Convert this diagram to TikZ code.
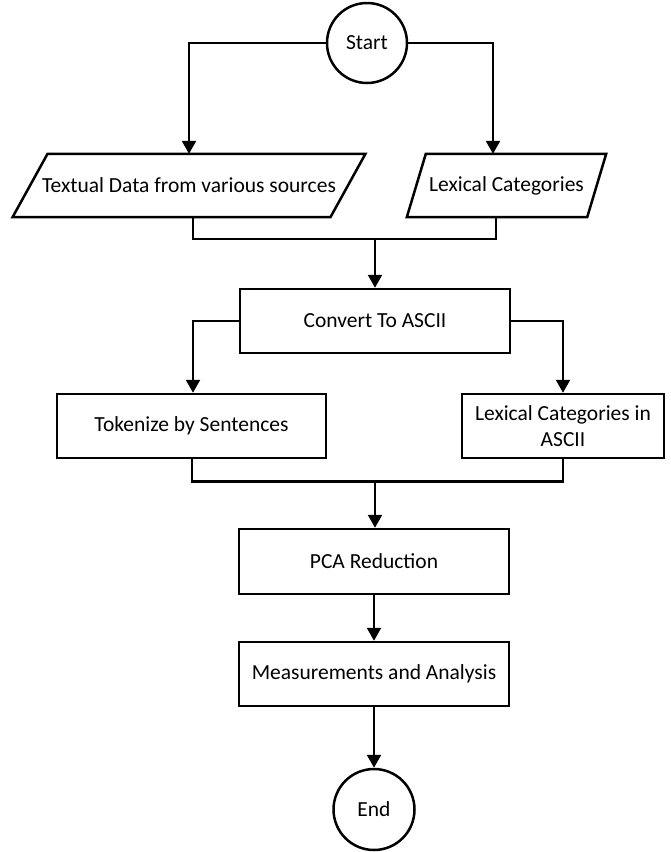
\documentclass[tikz,border=0pt]{standalone}
\usepackage{fontspec}
\setmainfont{Carlito}
\usetikzlibrary{arrows.meta,calc}
\begin{document}
\begin{tikzpicture}[x=1pt,y=-1pt,
  every node/.style={font=\fontsize{21.5}{26.5}\selectfont},
  box/.style={draw,line width=2.5pt,rectangle,minimum height=64pt,inner sep=0pt,align=center},
  term/.style={draw,line width=2.5pt,circle,minimum size=80pt,inner sep=0pt},
  iobox/.style={rectangle,minimum height=63pt,inner sep=0pt},
  ioline/.style={line width=2.5pt,line join=miter},
  conn/.style={line width=2.4pt,line join=miter},
  arr/.style={conn,-{Triangle[width=14pt,length=13pt]}}]
\useasboundingbox (0,0) rectangle (670,852);
\fill[white] (0,0) rectangle (670,852);
% nodes
\node[term] (start) at (367,43) {Start};
\node[iobox,minimum width=317.5pt] (data) at (189,185.5) {Textual Data from various sources};
\node[iobox,minimum width=180pt] (lex) at (506.5,185.5) {Lexical Categories};
\node[box,minimum width=270pt] (conv) at (375,321) {Convert To ASCII};
\node[box,minimum width=269pt] (tok) at (191.5,426) {Tokenize by Sentences};
\node[box,minimum width=202pt] (lexa) at (563,426) {Lexical Categories in\\ASCII};
\node[box,minimum width=270pt,minimum height=65pt] (pca) at (374,561.5) {PCA Reduction};
\node[box,minimum width=270pt] (meas) at (374,674) {Measurements and Analysis};
\node[term,minimum size=81pt] (end) at (374,809.5) {End};
% parallelogram outlines
\draw[ioline] ($(data.south west)+(-17.5,0)$) -- ($(data.south east)+(-17.5,0)$) -- ($(data.north east)+(17.5,0)$) -- ($(data.north west)+(17.5,0)$) -- cycle;
\draw[ioline] ($(lex.south west)+(-9.5,0)$) -- ($(lex.south east)+(-9.5,0)$) -- ($(lex.north east)+(9.5,0)$) -- ($(lex.north west)+(9.5,0)$) -- cycle;
% connectors
\draw[arr] (start.west) -| (data.north);
\draw[arr] (start.east) -| ($(lex.north)+(-13.5,0)$);
\coordinate (m1) at (375,239);
\draw[conn] ($(data.south)+(4,0)$) |- (m1);
\draw[conn] ($(lex.south)+(-10.5,0)$) |- (m1);
\draw[arr] (m1) -- (m1 |- conv.north);
\draw[arr] (conv.west) -| ($(tok.north)+(1.5,0)$);
\draw[arr] (conv.east) -| (lexa.north);
\coordinate (m2) at (375,481.5);
\draw[conn] ($(tok.south)+(0.5,0)$) |- (m2);
\draw[conn] (lexa.south) |- (m2);
\draw[arr] (m2) -- (m2 |- pca.north);
\draw[arr] (pca) -- (meas);
\draw[arr] (meas) -- (end);
\end{tikzpicture}
\end{document}
